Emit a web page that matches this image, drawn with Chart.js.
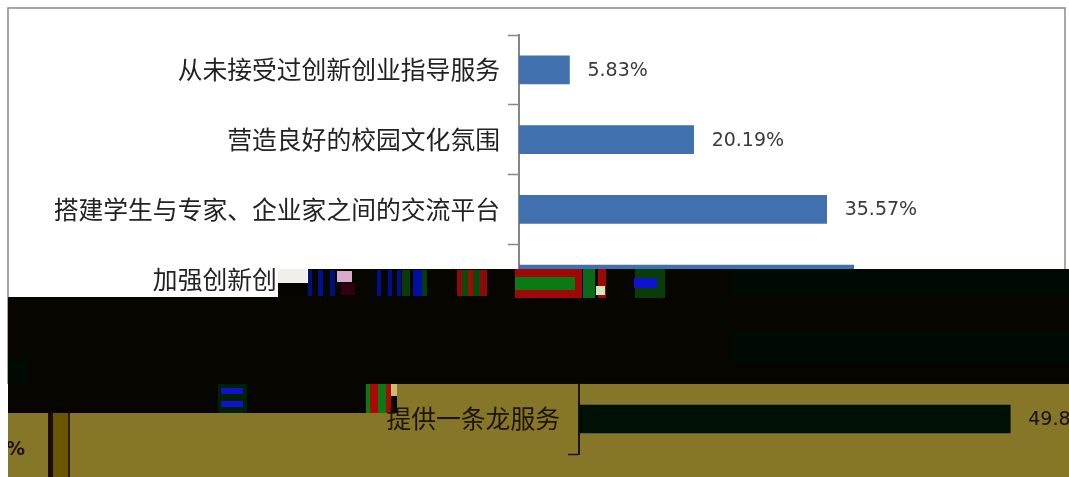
<!DOCTYPE html>
<html>
<head>
<meta charset="utf-8">
<script src="https://cdn.jsdelivr.net/npm/chart.js@4"></script>
<style>
html,body{margin:0;padding:0;background:#fff;overflow:hidden}
canvas{position:absolute;display:block}
</style>
</head>
<body>
<canvas id="upper" width="1069" height="384" style="left:0;top:0"></canvas>
<canvas id="lower" width="1061" height="133" style="left:8px;top:344px"></canvas>
<script>
// Values. The fifth row is hidden by the damaged band of the image,
// and the end of the fourth label and bar value cannot be read either.
const upperCategories = ['从未接受过创新创业指导服务', '营造良好的校园文化氛围', '搭建学生与专家、企业家之间的交流平台', '加强创新创'];
const upperValues = [5.83, 20.19, 35.57, 38.7];
const hiddenLabelChars = [0, 0, 0, 9];
const lowerCategories = ['提供一条龙服务'];
const lowerValues = [49.83];

const cjk = '"Noto Sans CJK SC"';
const latin = '"DejaVu Sans"';
const lowerOverlap = 40; // the lower canvas starts this far above the olive area

// Damaged-image artefacts (decoration only, not chart data): [x, y, w, h, colour]
const upperArtefacts = [
  [278, 269, 29, 14, '#f1efe9'],
  [278, 283, 30, 14, '#050400'],
  [308, 269, 761, 28, '#060500'],
  [8, 297, 1061, 87, '#060500'],
  [730, 269, 339, 28, '#000a02'],
  [730, 330, 339, 32, '#000a02'],
  [8, 360, 20, 24, '#000a03'],
  [308, 270, 4, 26, '#00107a'], [318, 270, 5, 26, '#00108c'], [330, 270, 5, 26, '#00107a'],
  [337, 271, 15, 11, '#d9a9cf'], [341, 283, 14, 12, '#300010'],
  [377, 270, 4, 26, '#00108c'], [388, 270, 4, 26, '#00108c'], [397, 270, 4, 26, '#00108c'],
  [402, 270, 8, 26, '#0a3c0a'], [413, 270, 9, 26, '#0010a0'], [422, 270, 5, 26, '#0a3c0a'],
  [457, 270, 5, 26, '#8c0a0a'], [462, 270, 6, 26, '#0a4a0a'], [468, 270, 5, 26, '#a00a0a'],
  [473, 270, 7, 26, '#0a4a0a'], [480, 270, 7, 26, '#8c0a0a'],
  [515, 269, 67, 29, '#a00808'], [515, 277, 60, 13, '#0a7a14'],
  [583, 269, 12, 29, '#0a6a18'], [598, 269, 8, 29, '#a00808'],
  [596, 286, 9, 9, '#cfe9c0'],
  [635, 269, 30, 29, '#0a3c0a'], [634, 278, 23, 10, '#0c14d0']
];
const lowerArtefacts = [
  [0, 0, 389, 29, '#060500'],
  [210, 0, 29, 29, '#002004'], [213, 4, 22, 6, '#0c14d0'], [213, 17, 22, 6, '#0c14d0'],
  [358, 0, 4, 29, '#0a7a14'], [362, 0, 8, 29, '#b00808'], [370, 0, 8, 29, '#0a7a14'], [378, 0, 5, 29, '#b00808'],
  [383, 0, 6, 12, '#cbbb72'],
  [40, 29, 5, 64, '#1c0c00'], [45, 29, 15, 64, '#6a5600'], [60, 29, 2, 64, '#2a1c00']
];

function paint(ctx, list) {
  list.forEach(r => { ctx.fillStyle = r[4]; ctx.fillRect(r[0], r[1], r[2], r[3]); });
}

const valueLabels = color => ({
  id: 'valueLabels',
  afterDatasetsDraw(chart) {
    const ctx = chart.ctx;
    const values = chart.data.datasets[0].data;
    ctx.save();
    ctx.font = '19px ' + latin;
    ctx.fillStyle = color;
    ctx.textAlign = 'left';
    ctx.textBaseline = 'middle';
    chart.getDatasetMeta(0).data.forEach((bar, i) => {
      ctx.fillText(values[i].toFixed(2) + '%', bar.x + 18, bar.y + 1);
    });
    ctx.restore();
  }
});

const upperDamage = {
  id: 'upperDamage',
  beforeDraw(chart) {
    const ctx = chart.ctx;
    ctx.fillStyle = '#ffffff';
    ctx.fillRect(0, 0, 1069, 384);
    ctx.strokeStyle = '#8a8a8a';
    ctx.lineWidth = 1.5;
    ctx.strokeRect(8, 8, 1057, 420);
  },
  afterDraw(chart) { paint(chart.ctx, upperArtefacts); }
};

const lowerDamage = {
  id: 'lowerDamage',
  beforeDraw(chart) {
    const ctx = chart.ctx;
    ctx.save();
    ctx.translate(0, lowerOverlap);
    ctx.fillStyle = '#867628';
    ctx.fillRect(0, 0, 1061, 93);
    paint(ctx, lowerArtefacts);
    ctx.font = 'bold 19px ' + latin;
    ctx.fillStyle = '#1a1000';
    ctx.textBaseline = 'middle';
    ctx.fillText('%', -2, 66);
    ctx.restore();
  }
};

function barOptions(cfg) {
  return {
    indexAxis: 'y',
    responsive: false,
    animation: false,
    devicePixelRatio: 1,
    layout: { padding: cfg.padding },
    plugins: { legend: { display: false }, tooltip: { enabled: false } },
    scales: {
      x: { display: false, min: 0, max: cfg.max },
      y: {
        afterFit(scale) { scale.width = cfg.axisWidth; },
        grid: {
          offset: true, drawOnChartArea: false, drawTicks: true,
          tickLength: 11, tickWidth: 1.5,
          tickColor: ctx => (cfg.skipFirstTick && ctx.index === 0) ? 'rgba(0,0,0,0)' : cfg.axisColor
        },
        border: { color: cfg.axisColor, width: 2 },
        ticks: {
          padding: 8, color: cfg.textColor, autoSkip: false,
          font: { family: cjk, size: 24.8, weight: '400' },
          callback(value, i) {
            const text = this.getLabelForValue(value);
            return text + '\u3000'.repeat(cfg.hidden[i] || 0);
          }
        }
      }
    }
  };
}

new Chart(document.getElementById('upper'), {
  type: 'bar',
  data: { labels: upperCategories, datasets: [{ data: upperValues, backgroundColor: '#4070ad', barThickness: 28 }] },
  options: barOptions({
    padding: { left: 0, right: 31, top: 35, bottom: 70 },
    max: 60, axisWidth: 519, axisColor: '#868686', textColor: '#222222', hidden: hiddenLabelChars
  }),
  plugins: [upperDamage, valueLabels('#3a3a3a')]
});

new Chart(document.getElementById('lower'), {
  type: 'bar',
  data: { labels: lowerCategories, datasets: [{ data: lowerValues, backgroundColor: '#001005', barThickness: 28 }] },
  options: barOptions({
    padding: { left: 0, right: 14, top: lowerOverlap, bottom: 23 },
    max: 55, axisWidth: 571, axisColor: '#1c1400', textColor: '#1c1400', hidden: [], skipFirstTick: true
  }),
  plugins: [lowerDamage, valueLabels('#1a1000')]
});
</script>
</body>
</html>
